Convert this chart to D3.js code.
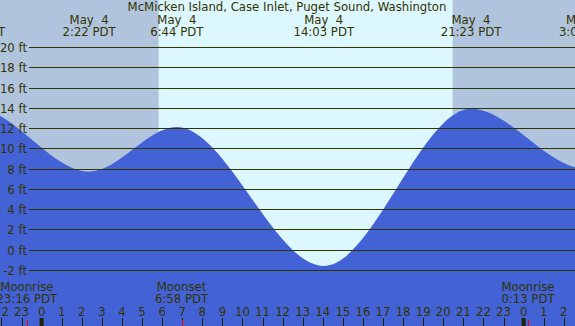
<!DOCTYPE html>
<html><head><meta charset="utf-8">
<script src="https://cdn.jsdelivr.net/npm/d3@7"></script>
<style>
body{margin:0;overflow:hidden;background:#fff}
svg{display:block}
text{font-family:"DejaVu Sans",Verdana,sans-serif;fill:#333300}
</style>
</head><body>
<script>
// ---- data (hours relative to May 4, 00:00 PDT) ----
const title = "McMicken Island, Case Inlet, Puget Sound, Washington";
// tide extremes (first and last lie outside the view, they only shape the curve ends)
const tideTimes   = [-10.7, -3.33, 2.367, 6.733, 14.05, 21.383, 27.083, 31.5];
const tideHeights = [-1.0, 14.0, 7.7, 12.1, -1.6, 13.9, 8.0, 12.0];
const tideDates   = ["May  3", "May  3", "May  4", "May  4", "May  4", "May  4", "May  5", "May  5"];
const tideLabels  = ["13:18 PDT", "20:40 PDT", "2:22 PDT", "6:44 PDT", "14:03 PDT", "21:23 PDT", "3:05 PDT", "7:30 PDT"];
const nightStart  = [-4, 20.47];
const nightEnd    = [5.83, 28];
const moonTimes   = [-0.733, 6.967, 24.217];
const moonEvents  = ["Moonrise", "Moonset", "Moonrise"];
const moonLabels  = ["23:16 PDT", "6:58 PDT", "0:13 PDT"];
const yTicks      = [-2, 0, 2, 4, 6, 8, 10, 12, 14, 16, 18, 20];
const hourTicks   = [-2, -1, 0, 1, 2, 3, 4, 5, 6, 7, 8, 9, 10, 11, 12, 13, 14, 15, 16, 17, 18, 19, 20, 21, 22, 23, 24, 25, 26];
const hourLabels  = ["22","23","0","1","2","3","4","5","6","7","8","9","10","11","12","13","14","15","16","17","18","19","20","21","22","23","0","1","2"];

const W = 575, H = 326, FS = 11.7;
const x = d3.scaleLinear().domain([0, 24]).range([41.6, 523.6]);
const y = d3.scaleLinear().domain([-2, 20]).range([270, 47]);

const svg = d3.select("body").append("svg").attr("width", W).attr("height", H);

// day background
svg.append("rect").attr("x", 0).attr("y", 0).attr("width", W).attr("height", H).attr("fill", "#ddf7ff");
// night
svg.selectAll("rect.night").data(nightStart).enter().append("rect")
  .attr("class", "night")
  .attr("x", (d) => Math.max(0, x(d)))
  .attr("y", 0)
  .attr("width", (d, i) => Math.min(W, x(nightEnd[i])) - Math.max(0, x(d)))
  .attr("height", H)
  .attr("fill", "#b0c4de");

// water
const pts = tideTimes.map((t, i) => [t, tideHeights[i]]);
const area = d3.area().x(d => x(d[0])).y0(H).y1(d => y(d[1])).curve(d3.curveMonotoneX);
svg.append("path").datum(pts).attr("d", area).attr("fill", "#4262d6");

// grid lines
svg.selectAll("line.grid").data(yTicks).enter().append("line")
  .attr("x1", 29).attr("x2", W)
  .attr("y1", d => Math.round(y(d)) + 0.5).attr("y2", d => Math.round(y(d)) + 0.5)
  .attr("stroke", "#333300").attr("stroke-width", 1);
svg.selectAll("text.ylab").data(yTicks).enter().append("text")
  .attr("x", 27).attr("y", d => Math.round(y(d)) + 4.5)
  .attr("text-anchor", "end").attr("font-size", FS)
  .text(d => d + " ft");

// title
svg.append("text").attr("x", 287).attr("y", 11).attr("text-anchor", "middle")
  .attr("font-size", FS).text(title);

// tide event labels (only those that reach into the view)
const evIdx = tideTimes.map((t, i) => i).filter(i => x(tideTimes[i]) > -40 && x(tideTimes[i]) < W + 40);
const ev = svg.selectAll("g.ev").data(evIdx).enter().append("g");
ev.append("text").attr("x", i => x(tideTimes[i])).attr("y", 24).attr("text-anchor", "middle")
  .attr("font-size", FS).style("white-space", "pre")
  .text(i => tideDates[i]);
ev.append("text").attr("x", i => x(tideTimes[i])).attr("y", 36).attr("text-anchor", "middle")
  .attr("font-size", FS).text(i => tideLabels[i]);

// moon labels
const mv = svg.selectAll("g.mv").data(moonTimes).enter().append("g");
mv.append("text").attr("x", d => x(d)).attr("y", 291).attr("text-anchor", "middle")
  .attr("font-size", FS).text((d, i) => moonEvents[i]);
mv.append("text").attr("x", d => x(d)).attr("y", 303).attr("text-anchor", "middle")
  .attr("font-size", FS).text((d, i) => moonLabels[i]);

// hour ticks
svg.selectAll("line.hr").data(hourTicks.filter(h => h % 24 !== 0)).enter().append("line")
  .attr("x1", d => Math.round(x(d)) + 0.5).attr("x2", d => Math.round(x(d)) + 0.5)
  .attr("y1", 318).attr("y2", H).attr("stroke", "#222200").attr("stroke-width", 1);
svg.selectAll("rect.mid").data(hourTicks.filter(h => h % 24 === 0)).enter().append("rect")
  .attr("x", d => x(d) - 2).attr("y", 318).attr("width", 4).attr("height", 8).attr("fill", "#222200");
svg.selectAll("line.moon").data(moonTimes).enter().append("line")
  .attr("x1", d => Math.round(x(d)) + 0.5).attr("x2", d => Math.round(x(d)) + 0.5)
  .attr("y1", 320).attr("y2", H).attr("stroke", "#ff0000").attr("stroke-width", 1);
svg.selectAll("text.hl").data(hourTicks).enter().append("text")
  .attr("x", d => x(d)).attr("y", 315.5).attr("text-anchor", "middle")
  .attr("font-size", FS).text((d, i) => hourLabels[i]);
</script>
</body></html>
